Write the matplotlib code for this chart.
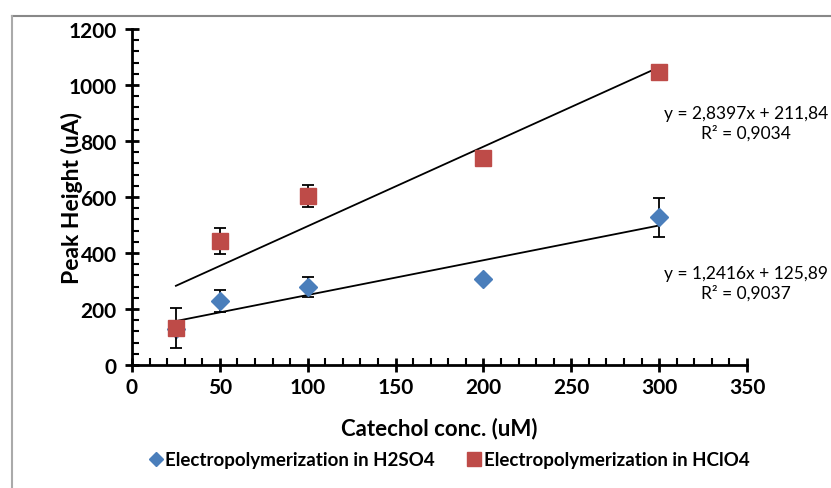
import numpy as np
import matplotlib.pyplot as plt
from matplotlib.lines import Line2D
from matplotlib.ticker import MultipleLocator

plt.rcParams['font.family'] = ['Lato', 'DejaVu Sans']

# 데이터
conc = [25, 50, 100, 200, 300]
h2so4 = [127, 228, 278, 307, 528]
h2so4_err = [0, 40, 35, 0, 70]
hclo4 = [132, 443, 603, 739, 1046]
hclo4_err = [70, 45, 40, 0, 22]

fit_h2so4 = (1.2416, 125.89)
fit_hclo4 = (2.8397, 211.84)
eq_h2so4 = "y = 1,2416x + 125,89\nR² = 0,9037"
eq_hclo4 = "y = 2,8397x + 211,84\nR² = 0,9034"

blue = '#4a7ebb'
red = '#be4b48'

fig = plt.figure(figsize=(8.31, 4.89), dpi=100)
ax = fig.add_axes([0.1588, 0.2515, 0.899 - 0.1588, 0.9387 - 0.2515])

# 그림 테두리
fig.add_artist(Line2D([12 / 831, 1], [1 - 17 / 489, 1 - 17 / 489], color='#888888', lw=1.5))
fig.add_artist(Line2D([12 / 831, 12 / 831], [0, 1 - 17 / 489], color='#aaaaaa', lw=1.5))

# 추세선
xf = np.array([conc[0], conc[-1]])
ax.plot(xf, fit_hclo4[0] * xf + fit_hclo4[1], color='black', lw=1.3, zorder=2)
ax.plot(xf, fit_h2so4[0] * xf + fit_h2so4[1], color='black', lw=1.3, zorder=2)

ax.errorbar(conc, h2so4, yerr=h2so4_err, fmt='D', color=blue, ms=9,
            ecolor='black', elinewidth=1.3, capsize=4, capthick=1.3, zorder=3,
            label='Electropolymerization in H2SO4')
ax.errorbar(conc, hclo4, yerr=hclo4_err, fmt='s', color=red, ms=12,
            ecolor='black', elinewidth=1.3, capsize=4, capthick=1.3, zorder=4,
            label='Electropolymerization in HClO4')

# 회귀식 텍스트 (픽셀 위치 -> 그림 좌표)
ax.text(746 / 831, 1 - 124 / 489, eq_hclo4, ha='center', va='center', fontsize=12.5,
        linespacing=1.2, transform=fig.transFigure)
ax.text(746 / 831, 1 - 284 / 489, eq_h2so4, ha='center', va='center', fontsize=12.5,
        linespacing=1.2, transform=fig.transFigure)

ax.set_xlim(0, 350)
ax.set_ylim(0, 1200)
ax.xaxis.set_major_locator(MultipleLocator(50))
ax.xaxis.set_minor_locator(MultipleLocator(10))
ax.yaxis.set_major_locator(MultipleLocator(200))
ax.yaxis.set_minor_locator(MultipleLocator(40))
ax.spines['top'].set_visible(False)
ax.spines['right'].set_visible(False)
for s in ['left', 'bottom']:
    ax.spines[s].set_linewidth(2)
ax.tick_params(which='major', direction='inout', length=10, width=2, labelsize=15)
ax.tick_params(which='minor', direction='in', length=5, width=1.5)
ax.tick_params(axis='y', pad=6)
for lab in ax.get_xticklabels() + ax.get_yticklabels():
    lab.set_fontweight('bold')

ax.set_xlabel('Catechol conc. (uM)', fontsize=16, fontweight='bold')
ax.set_ylabel('Peak Height (uA)', fontsize=16.5, fontweight='bold')
ax.xaxis.set_label_coords(0.5, -0.155)
ax.yaxis.set_label_coords(-0.08, 0.5)

handles = [Line2D([], [], marker='D', color=blue, ls='none', ms=7),
           Line2D([], [], marker='s', color=red, ls='none', ms=10)]
fig.legend(handles, ['Electropolymerization in H2SO4', 'Electropolymerization in HClO4'],
           loc='center', bbox_to_anchor=(448 / 831, 1 - 461 / 489), ncol=2, frameon=False,
           prop={'weight': 'bold', 'size': 13.5}, handletextpad=0.0, columnspacing=1.6,
           handlelength=1)

fig.savefig('out.png', dpi=100)
